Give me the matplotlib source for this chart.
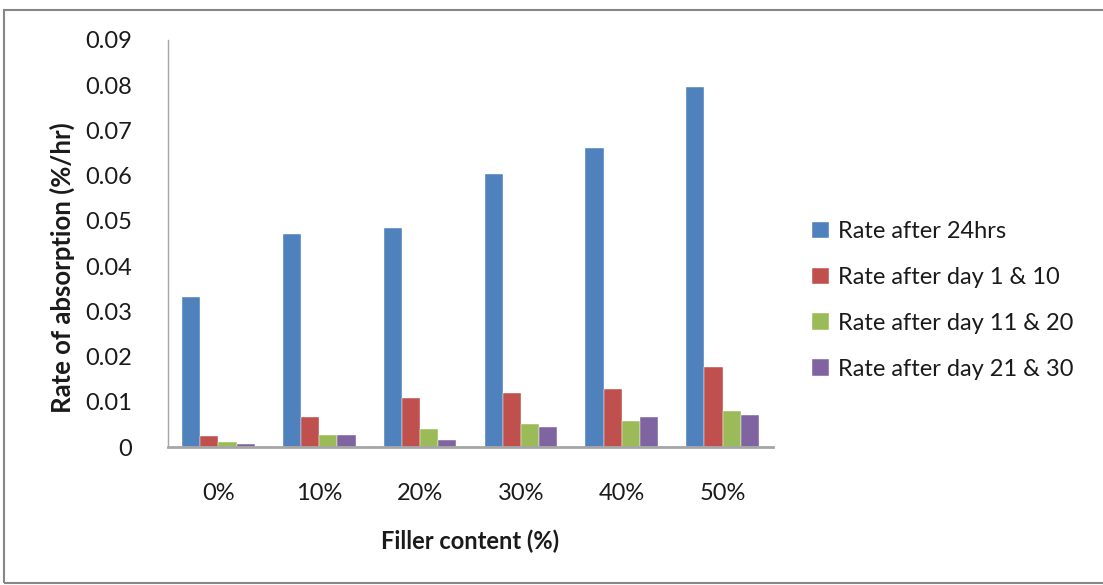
import matplotlib

matplotlib.use("Agg")
import matplotlib.pyplot as plt  # noqa: E402
import numpy as np  # noqa: E402
from matplotlib.patches import Rectangle  # noqa: E402

plt.rcParams["font.family"] = ["Lato", "DejaVu Sans"]

categories = ["0%", "10%", "20%", "30%", "40%", "50%"]
series_names = [
    "Rate after 24hrs",
    "Rate after day 1 & 10",
    "Rate after day 11 & 20",
    "Rate after day 21 & 30",
]
rate_24hrs = [0.0332, 0.0471, 0.0484, 0.0604, 0.0661, 0.0796]
rate_day_1_10 = [0.0024, 0.0067, 0.0109, 0.0120, 0.0129, 0.0178]
rate_day_11_20 = [0.0011, 0.0027, 0.0039, 0.0050, 0.0058, 0.0079]
rate_day_21_30 = [0.0007, 0.0027, 0.0016, 0.0044, 0.0067, 0.0070]
y_ticks = [0, 0.01, 0.02, 0.03, 0.04, 0.05, 0.06, 0.07, 0.08, 0.09]
y_tick_labels = ["0", "0.01", "0.02", "0.03", "0.04", "0.05", "0.06", "0.07", "0.08", "0.09"]

COLORS = ["#4F81BD", "#C0504D", "#9BBB59", "#8064A2"]
AXIS_COLOR = "#A6A6A6"
TEXT_COLOR = "#1A1A1A"

fig = plt.figure(figsize=(11.03, 5.85), dpi=100)
ax = fig.add_axes([168 / 1103, 1 - 447 / 585, (773 - 168) / 1103, (447 - 40) / 585])

# outer chart frame
fig.patches.append(Rectangle((4 / 1103, 2 / 585), 1.2, 1 - 12 / 585, transform=fig.transFigure,
                             fill=False, edgecolor="#878787", linewidth=1.5))

x = np.arange(len(categories))
width = 0.18
all_series = [rate_24hrs, rate_day_1_10, rate_day_11_20, rate_day_21_30]
for i, (name, vals) in enumerate(zip(series_names, all_series)):
    ax.bar(x + (i - 1.5) * width, vals, width, color=COLORS[i], label=name,
           edgecolor="white", linewidth=0.3)

ax.set_xlim(-0.5, len(categories) - 0.5)
ax.set_ylim(0, 0.09)
ax.set_yticks(y_ticks)
ax.set_yticklabels(y_tick_labels)
ax.set_xticks(x)
ax.set_xticklabels(categories)

for side in ["top", "right"]:
    ax.spines[side].set_visible(False)
ax.spines["left"].set_color(AXIS_COLOR)
ax.spines["left"].set_linewidth(1.0)
ax.spines["bottom"].set_color(AXIS_COLOR)
ax.spines["bottom"].set_linewidth(2.0)
ax.tick_params(axis="y", length=0, pad=26, labelsize=17, colors=TEXT_COLOR)
ax.tick_params(axis="x", length=0, pad=26, labelsize=17, colors=TEXT_COLOR)

ax.set_ylabel("Rate of absorption (%/hr)", fontsize=18.5, fontweight="bold",
              color=TEXT_COLOR, va="center")
ax.yaxis.set_label_coords(-0.175, 0.44)
ax.set_xlabel("Filler content (%)", fontsize=17, fontweight="bold",
              color=TEXT_COLOR, labelpad=18)

ax.legend(loc="center left", bbox_to_anchor=(1.03, 0.36), frameon=False, fontsize=17,
          handlelength=0.7, handleheight=0.7, handletextpad=0.4, labelspacing=1.05,
          labelcolor=TEXT_COLOR)

fig.savefig("out.png", dpi=100)
